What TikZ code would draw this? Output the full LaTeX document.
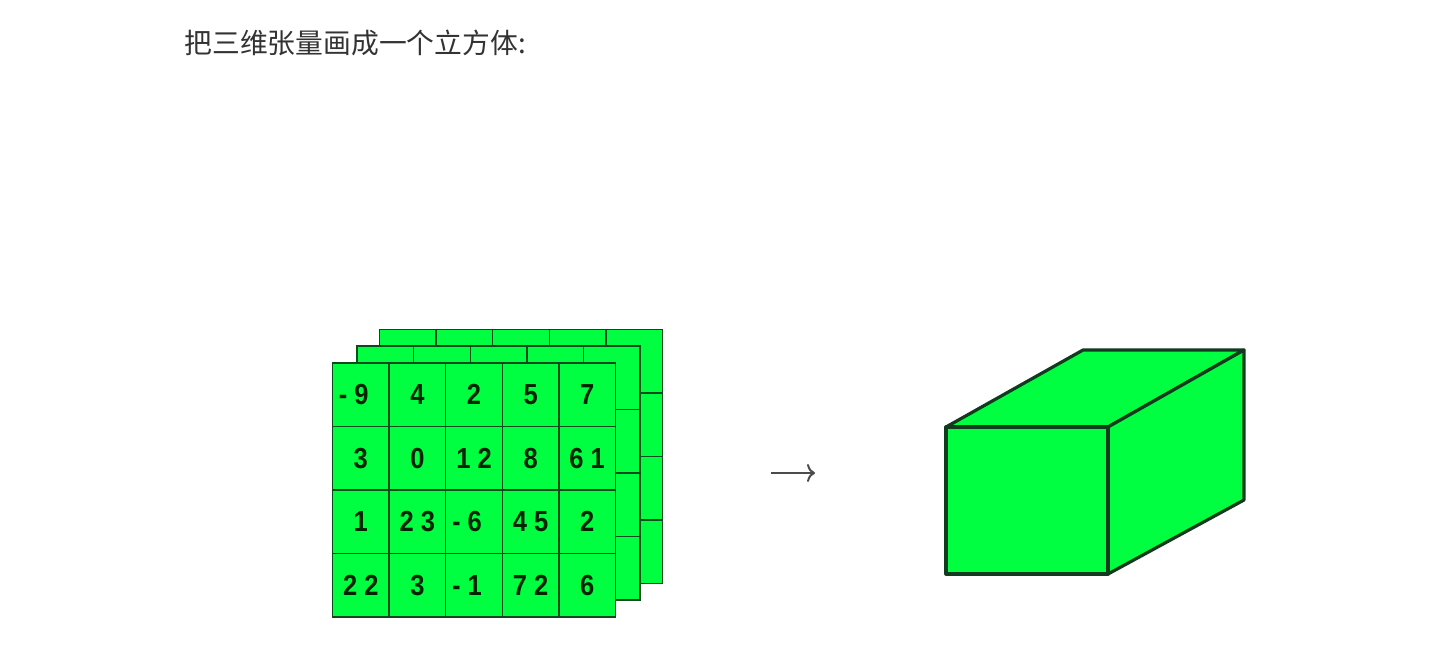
\documentclass[tikz,border=0pt]{standalone}
\usepackage{fontspec}
\newfontfamily\cjk{Noto Sans CJK SC}
\newfontfamily\cellfont[FakeStretch=0.88]{Liberation Sans Bold}
\setmainfont{Liberation Sans}
\usetikzlibrary{arrows.meta}
\definecolor{sheetgreen}{HTML}{00FF40}
\definecolor{gridline}{HTML}{0C4A1C}
\definecolor{cubeline}{HTML}{123A1E}
\definecolor{titlegray}{HTML}{333333}
\newcommand{\negval}[1]{- #1\kern7pt}
\tikzset{
  cellbox/.style={draw=gridline,fill=sheetgreen,line width=0.7pt,minimum width=28.3pt,
    minimum height=31.75pt,inner sep=0pt,outer sep=0pt,font=\cellfont\fontsize{14.5}{16}\selectfont,text=black!85!green},
  cubeface/.style={draw=cubeline,fill=sheetgreen,line width=1.6pt,line join=round},
}
\begin{document}
\begin{tikzpicture}[x=0.5pt,y=-0.5pt]
  \useasboundingbox (0,0) rectangle (1430,660);
  \node[anchor=west,inner sep=0pt,text=titlegray,font=\cjk\fontsize{13.9}{16}\selectfont] (title) at (184,43) {把三维张量画成一个立方体:};
  % sheets behind
  \foreach \col in {0,...,4}
    \foreach \row in {0,...,3}
      \node[cellbox] (back\col\row) at ({379.5+28.3+56.6*\col},{329.5+31.75+63.5*\row}) {};
  \foreach \col in {0,...,4}
    \foreach \row in {0,...,3}
      \node[cellbox] (mid\col\row) at ({357+28.3+56.6*\col},{346+31.75+63.5*\row}) {};
  % front sheet
  \foreach \row/\rowvals in {0/{\negval{9},4,2,5,7},1/{3,0,1 2,8,6 1},2/{1,2 3,\negval{6},4 5,2},3/{2 2,3,\negval{1},7 2,6}}
    \foreach \val [count=\col from 0] in \rowvals
      \node[cellbox] (front\col\row) at ({332.5+28.3+56.6*\col},{363+31.75+63.5*\row}) {\val};
  % arrow
  \coordinate (arrowstart) at (771,473);
  \coordinate (arrowend) at (815,473);
  \draw[-{To[length=4pt,width=9pt]},draw=black!70,line width=1pt] (arrowstart) -- (arrowend);
  % cube
  \coordinate (ftl) at (946,427);
  \coordinate (ftr) at (1108,427);
  \coordinate (fbr) at (1108,574);
  \coordinate (fbl) at (946,574);
  \coordinate (btl) at (1083,350);
  \coordinate (btr) at (1244,350);
  \coordinate (bbr) at (1244,500);
  \draw[cubeface] (ftl) -- (btl) -- (btr) -- (ftr) -- cycle;
  \draw[cubeface] (ftr) -- (btr) -- (bbr) -- (fbr) -- cycle;
  \draw[cubeface] (ftl) -- (ftr) -- (fbr) -- (fbl) -- cycle;
\end{tikzpicture}
\end{document}
